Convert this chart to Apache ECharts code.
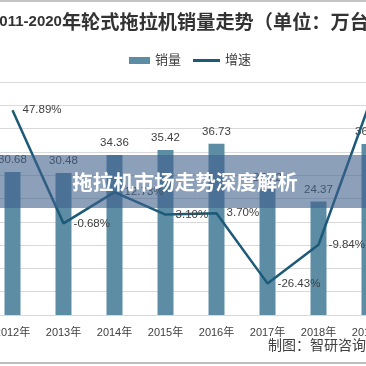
<!DOCTYPE html>
<html>
<head>
<meta charset="utf-8">
<script src="https://cdn.jsdelivr.net/npm/echarts@6/dist/echarts.min.js"></script>
<style>
html,body{margin:0;padding:0;width:366px;height:366px;overflow:hidden;background:#fff;}
#wrap{position:relative;width:366px;height:366px;overflow:hidden;}
#chart{position:absolute;left:-64px;top:0;width:520px;height:366px;}
</style>
</head>
<body>
<div id="wrap"><div id="chart"></div></div>
<script>
const categories = ['2011年','2012年','2013年','2014年','2015年','2016年','2017年','2018年','2019年','2020年'];
const sales = [20.75, 30.68, 30.48, 34.36, 35.42, 36.73, 27.02, 24.37, 36.72, '-'];
const growth = ['-', 47.89, -0.68, 12.73, 3.10, 3.70, -26.43, -9.84, 50.68, '-'];
const titleDigits = '2011-2020';
const titleText = '年轮式拖拉机销量走势（单位：万台）';
const bannerText = '拖拉机市场走势深度解析';
const sourceText = '制图：智研咨询';

const FONT = "'Liberation Sans','Noto Sans CJK SC',sans-serif";
const OX = 64; // offset of the visible window inside the wider chart div

const chart = echarts.init(document.getElementById('chart'), null, {renderer:'canvas'});
chart.setOption({
  animation: false,
  backgroundColor: '#ffffff',
  textStyle: {fontFamily: FONT},
  grid: {left: 0, top: 82, width: 510, height: 233, containLabel: false, outerBoundsMode: 'none'},
  legend: [
    {data: [{name: '销量', icon: 'rect'}], left: 124 + OX, top: 49, itemWidth: 21, itemHeight: 7,
     textStyle: {fontSize: 13, color: '#404040', fontFamily: FONT}},
    {data: [{name: '增速', icon: 'rect'}], left: 188 + OX, top: 49, itemWidth: 27, itemHeight: 3,
     itemStyle: {color: '#1d5a78'},
     textStyle: {fontSize: 13, color: '#404040', fontFamily: FONT}}
  ],
  xAxis: {
    type: 'category', data: categories,
    axisLine: {lineStyle: {color: '#d9d9d9', width: 1}},
    axisTick: {show: false},
    axisLabel: {fontSize: 11, color: '#404040', margin: 12, fontFamily: FONT}
  },
  yAxis: [
    {type: 'value', min: 0, max: 50, interval: 5, axisLabel: {show: false}, axisLine: {show: false}, axisTick: {show: false},
     splitLine: {lineStyle: {color: '#d9d9d9', width: 1}}},
    {type: 'value', min: -40, max: 60, interval: 10, axisLabel: {show: false}, axisLine: {show: false}, axisTick: {show: false},
     splitLine: {show: false}}
  ],
  series: [
    {name: '销量', type: 'bar', data: sales, barWidth: 16, itemStyle: {color: '#5d8da5'},
     label: {show: true, position: 'top', distance: 6, fontSize: 11.5, color: '#404040', fontFamily: FONT}},
    {name: '增速', type: 'line', yAxisIndex: 1, data: growth, symbol: 'circle', symbolSize: 0.1, showSymbol: true,
     connectNulls: false,
     lineStyle: {color: '#1d5a78', width: 2.5}, itemStyle: {color: '#1d5a78'},
     label: {show: true, position: 'right', distance: 10, fontSize: 11.5, color: '#404040', fontFamily: FONT,
             formatter: p => (typeof p.value === 'number') ? p.value.toFixed(2) + '%' : ''}}
  ],
  graphic: [
    {type: 'text', x: OX - 9, y: 22, z: 50,
     style: {text: '{a|' + titleDigits + '}{b|' + titleText + '}', verticalAlign: 'middle', rich: {
       a: {fontSize: 15, fontWeight: 'bold', fill: '#333333', fontFamily: "'Liberation Sans',sans-serif"},
       b: {fontSize: 19.2, fontWeight: 'bold', fill: '#333333', fontFamily: "'Noto Sans CJK SC',sans-serif"}}}},
    {type: 'rect', z: 100, shape: {x: OX, y: 155, width: 366, height: 53},
     style: {fill: 'rgba(64,96,140,0.6)'}},
    {type: 'text', z: 101, x: 185 + OX, y: 182,
     style: {text: bannerText, fill: '#ffffff', fontSize: 20.5, fontWeight: 'bold', align: 'center', verticalAlign: 'middle',
             fontFamily: "'Noto Sans CJK SC',sans-serif"}},
    {type: 'text', z: 50, x: 268 + OX, y: 345,
     style: {text: sourceText, fill: '#404040', fontSize: 14, verticalAlign: 'middle',
             fontFamily: "'Noto Sans CJK SC',sans-serif"}},
    {type: 'rect', z: 50, shape: {x: OX, y: 0, width: 366, height: 2}, style: {fill: '#c4c4c4'}},
    {type: 'rect', z: 50, shape: {x: OX, y: 362, width: 366, height: 2}, style: {fill: '#bdbdbd'}}
  ]
});
</script>
</body>
</html>
